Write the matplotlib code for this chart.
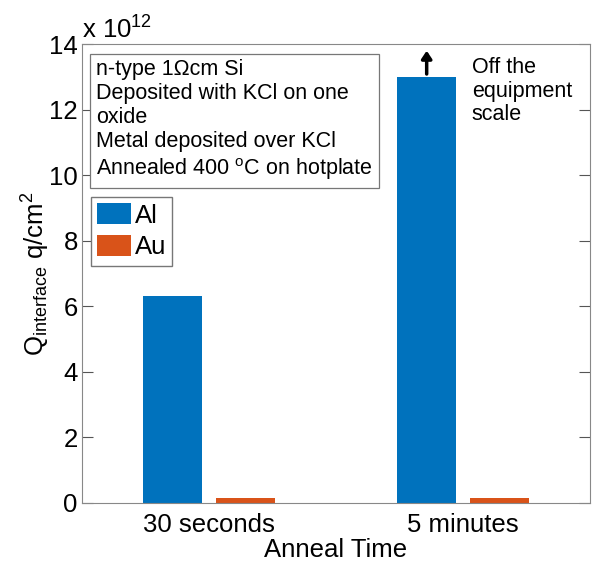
import matplotlib
matplotlib.use("Agg")
import matplotlib.pyplot as plt
import numpy as np

plt.rcParams["font.family"] = ["Liberation Sans", "DejaVu Sans"]
plt.rcParams["mathtext.fontset"] = "custom"
plt.rcParams["mathtext.rm"] = "Liberation Sans"
plt.rcParams["mathtext.it"] = "Liberation Sans"

# Datos (q/cm^2)
anneal_times = ["30 seconds", "5 minutes"]
q_al = [6.3e12, 13.0e12]
q_au = [0.15e12, 0.15e12]
scale_exp = 12

AL_COLOR = "#0072BD"
AU_COLOR = "#D95319"

x = np.arange(1, len(anneal_times) + 1)
w = 0.23
off = 0.143
fac = 10.0 ** scale_exp

fig = plt.figure(figsize=(5.93, 5.64), dpi=100)
ax = fig.add_axes([82 / 593, 1 - 503 / 564, 508 / 593, 459 / 564])

ax.bar(x - off, np.array(q_al) / fac, width=w, color=AL_COLOR, label="Al")
ax.bar(x + off, np.array(q_au) / fac, width=w, color=AU_COLOR, label="Au")

ax.set_xlim(0.5, 2.5)
ax.set_ylim(0, 14)
ax.set_yticks(np.arange(0, 15, 2))
ax.set_xticks(x)
ax.set_xticklabels(anneal_times)
ax.tick_params(axis="x", length=0, labelsize=18.5, pad=7)
ax.tick_params(axis="y", direction="in", right=True, length=8, labelsize=18.5,
               color="#555555", width=0.8, pad=3)
for s in ax.spines.values():
    s.set_color("#888888")
    s.set_linewidth(0.8)

ax.set_xlabel("Anneal Time", fontsize=18.5, labelpad=1)
ax.set_ylabel("Q$_{\\mathrm{interface}}$ q/cm$^2$", fontsize=18.5, labelpad=-2)
ax.text(0.0, 1.0, "x 10$^{%d}$" % scale_exp, transform=ax.transAxes,
        fontsize=18.5, ha="left", va="bottom")

# Flecha fuera de escala
ax.annotate("", xy=(x[1] - off, 13.88), xytext=(x[1] - off, 13.0),
            arrowprops=dict(arrowstyle="-|>,head_width=0.3,head_length=0.45",
                            color="black", lw=2.5))
ax.text(x[1] + 0.035, 13.6, "Off the\nequipment\nscale", fontsize=15.5,
        ha="left", va="top", linespacing=1.15)

# Cuadro de condiciones
info = ("n-type 1\u03A9cm Si\nDeposited with KCl on one\noxide\n"
        "Metal deposited over KCl\nAnnealed 400 $^\\mathrm{o}$C on hotplate")
ax.text(0.555, 13.55, info, fontsize=15.5, ha="left", va="top", linespacing=1.2,
        bbox=dict(boxstyle="square,pad=0.3", facecolor="white",
                  edgecolor="#777777", linewidth=0.9))

ax.legend(loc="upper left", bbox_to_anchor=(9 / 508, 1 - 153 / 459),
          borderaxespad=0, fontsize=18.5,
          frameon=True, fancybox=False, edgecolor="#777777", framealpha=1,
          handlelength=1.3, handleheight=0.85, handletextpad=0.15,
          borderpad=0.25, labelspacing=0.3)

fig.savefig("out.png", dpi=100)
